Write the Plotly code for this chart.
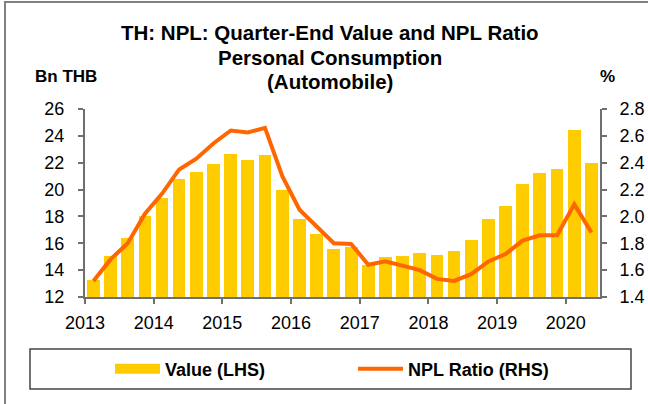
import plotly.graph_objects as go
import pandas as pd

# ---- data ----
quarters = ["2013Q1", "2013Q2", "2013Q3", "2013Q4",
            "2014Q1", "2014Q2", "2014Q3", "2014Q4",
            "2015Q1", "2015Q2", "2015Q3", "2015Q4",
            "2016Q1", "2016Q2", "2016Q3", "2016Q4",
            "2017Q1", "2017Q2", "2017Q3", "2017Q4",
            "2018Q1", "2018Q2", "2018Q3", "2018Q4",
            "2019Q1", "2019Q2", "2019Q3", "2019Q4",
            "2020Q1", "2020Q2"]
value_bn_thb = [13.3, 15.05, 16.4, 18.0, 19.4, 20.8, 21.3, 21.9,
                22.65, 22.2, 22.55, 20.0, 17.8, 16.7, 15.6, 15.7,
                14.4, 15.0, 15.05, 15.25, 15.15, 15.45, 16.25, 17.8,
                18.8, 20.45, 21.25, 21.55, 24.4, 22.0]
npl_ratio = [1.52, 1.68, 1.80, 2.02, 2.17, 2.35, 2.43, 2.545,
             2.64, 2.625, 2.66, 2.30, 2.05, 1.93, 1.80, 1.795,
             1.64, 1.665, 1.635, 1.60, 1.535, 1.52, 1.57, 1.665,
             1.72, 1.82, 1.86, 1.86, 2.09, 1.88]
year_ticks = ["2013", "2014", "2015", "2016", "2017", "2018", "2019", "2020"]

# quarter midpoints on a date axis
periods = [pd.Period(q, freq="Q") for q in quarters]
x_mid = [p.start_time + (p.end_time - p.start_time) / 2 for p in periods]
tick_dates = [pd.Timestamp(f"{y}-01-01") for y in year_ticks]

# ---- layout geometry ----
W, H = 648, 404
L, R, T, B = 85, 48, 109, 107
PW, PH = W - L - R, H - T - B


def px2x(px):
    return (px - L) / PW


def py2y(py):
    return (H - B - py) / PH


FONT = "Liberation Sans, Arial, sans-serif"
BAR_COLOR = "#FFCC00"
LINE_COLOR = "#FF6600"
AXIS_COLOR = "#6f6f6f"

fig = go.Figure()
fig.add_trace(go.Bar(
    x=x_mid, y=value_bn_thb, name="Value (LHS)",
    marker=dict(color=BAR_COLOR, line=dict(width=0)),
    width=0.74 * 91.3 * 86400000, showlegend=False, yaxis="y",
))
# legend proxy for the bars (wide swatch like the reference)
fig.add_trace(go.Scatter(
    x=[None], y=[None], mode="lines", name="<b>Value (LHS)</b>",
    line=dict(color=BAR_COLOR, width=11), yaxis="y", legend="legend",
))
fig.add_trace(go.Scatter(
    x=x_mid, y=npl_ratio, mode="lines", name="<b>NPL Ratio (RHS)</b>",
    line=dict(color=LINE_COLOR, width=4), yaxis="y2", legend="legend2",
))

legend_common = dict(
    orientation="h", xref="container", yref="container",
    xanchor="left", yanchor="middle",
    font=dict(size=18, family=FONT, color="black"),
    bgcolor="rgba(0,0,0,0)", borderwidth=0, itemwidth=45,
)

fig.update_layout(
    width=W, height=H,
    margin=dict(l=L, r=R, t=T, b=B, autoexpand=False),
    paper_bgcolor="white", plot_bgcolor="white",
    font=dict(family=FONT, size=18, color="black"),
    bargap=0,
    xaxis=dict(
        type="date", range=["2013-01-01", "2020-07-01"],
        tickvals=tick_dates, ticktext=year_ticks,
        showgrid=False, zeroline=False,
        showline=True, linecolor=AXIS_COLOR, linewidth=2,
        ticks="outside", ticklen=5, tickcolor=AXIS_COLOR, tickwidth=1.5,
        tickfont=dict(size=18), ticklabelstandoff=3,
    ),
    yaxis=dict(
        range=[12, 26], dtick=2, tick0=12,
        showgrid=False, zeroline=False,
        showline=True, linecolor=AXIS_COLOR, linewidth=2,
        ticks="outside", ticklen=5, tickcolor=AXIS_COLOR, tickwidth=1.5,
        tickfont=dict(size=18), ticklabelstandoff=10,
    ),
    yaxis2=dict(
        range=[1.4, 2.8], dtick=0.2, tick0=1.4, tickformat=".1f",
        overlaying="y", side="right",
        showgrid=False, zeroline=False,
        showline=True, linecolor=AXIS_COLOR, linewidth=2,
        ticks="outside", ticklen=5, tickcolor=AXIS_COLOR, tickwidth=1.5,
        tickfont=dict(size=18), ticklabelstandoff=9,
    ),
    legend=dict(legend_common, x=110 / W, y=1 - 369 / H),
    legend2=dict(legend_common, x=353 / W, y=1 - 369 / H),
    shapes=[
        # outer chart frame
        dict(type="rect", xref="paper", yref="paper", layer="below",
             x0=px2x(5), x1=px2x(720), y0=py2y(480), y1=py2y(2),
             line=dict(color="#808080", width=2), fillcolor="rgba(0,0,0,0)"),
        # legend box
        dict(type="rect", xref="paper", yref="paper", layer="below",
             x0=px2x(30), x1=px2x(631), y0=py2y(389), y1=py2y(349),
             line=dict(color="#444444", width=1.5), fillcolor="rgba(0,0,0,0)"),
    ],
    annotations=[
        dict(text="<b>TH: NPL: Quarter-End Value and NPL Ratio</b>",
             xref="paper", yref="paper", x=px2x(330), y=py2y(32.5),
             showarrow=False, xanchor="center", yanchor="middle",
             font=dict(size=20.5)),
        dict(text="<b>Personal Consumption</b>",
             xref="paper", yref="paper", x=px2x(330), y=py2y(57.5),
             showarrow=False, xanchor="center", yanchor="middle",
             font=dict(size=20.5)),
        dict(text="<b>(Automobile)</b>",
             xref="paper", yref="paper", x=px2x(330), y=py2y(81.5),
             showarrow=False, xanchor="center", yanchor="middle",
             font=dict(size=20.5)),
        dict(text="<b>Bn THB</b>",
             xref="paper", yref="paper", x=px2x(66), y=py2y(76),
             showarrow=False, xanchor="center", yanchor="middle",
             font=dict(size=17)),
        dict(text="<b>%</b>",
             xref="paper", yref="paper", x=px2x(607), y=py2y(76),
             showarrow=False, xanchor="center", yanchor="middle",
             font=dict(size=17)),
    ],
)

fig.write_html("out.html", config={"displayModeBar": False},
               post_script="document.body.style.margin='0';")
